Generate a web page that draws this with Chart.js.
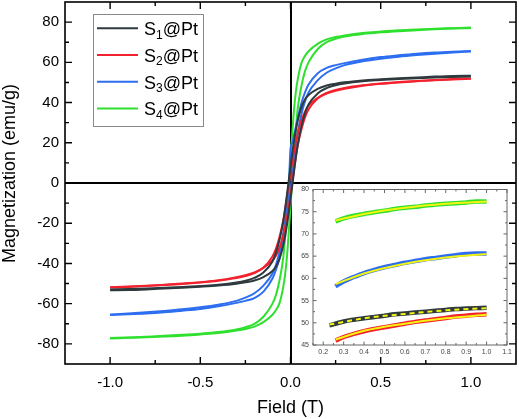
<!DOCTYPE html>
<html>
<head>
<meta charset="utf-8">
<script src="https://cdn.jsdelivr.net/npm/chart.js@4/dist/chart.umd.min.js"></script>
<style>
  html, body { margin: 0; padding: 0; background: #fff; }
  #wrap { position: relative; width: 519px; height: 419px; }
  #main { position: absolute; left: 0; top: 0; }
  #inset { position: absolute; left: 292px; top: 180px; }
</style>
</head>
<body>
<div id="wrap">
  <canvas id="main" width="519" height="419"></canvas>
  <canvas id="inset" width="224" height="184"></canvas>
</div>
<script>
// ---------------- DATA ----------------
const seriesLabels = ['S₁@Pt', 'S₂@Pt', 'S₃@Pt', 'S₄@Pt'];
const seriesColors = ['#2e3a3e', '#f2222e', '#2d6ef0', '#2fe02f'];

// field sweep from +1 T down to -1 T (descending branch)
const fieldDesc = [1.0, 0.9, 0.8, 0.7, 0.6, 0.5, 0.4, 0.3, 0.25, 0.2, 0.15, 0.1, 0.08, 0.06, 0.04, 0.03, 0.02, 0.01, 0,
  -0.01, -0.02, -0.03, -0.04, -0.06, -0.08, -0.1, -0.15, -0.2, -0.25, -0.3, -0.4, -0.5, -0.6, -0.7, -0.8, -0.9, -1.0];
// field sweep from -1 T up to +1 T (ascending branch)
const fieldAsc = [-1.0, -0.9, -0.8, -0.7, -0.6, -0.5, -0.4, -0.3, -0.25, -0.2, -0.15, -0.1, -0.08, -0.06, -0.04, -0.03, -0.02, -0.01, 0,
  0.01, 0.02, 0.03, 0.04, 0.06, 0.08, 0.1, 0.15, 0.2, 0.25, 0.3, 0.4, 0.5, 0.6, 0.7, 0.8, 0.9, 1.0];

const s1Desc = [53.3, 53.2, 52.9, 52.5, 52.1, 51.6, 51.0, 50.1, 49.4, 48.5, 46.8, 43.8, 41.5, 37.5, 31, 26.5, 21, 15, 8,
  1, -6, -13, -19, -28, -34.5, -39, -44.5, -47.2, -48.6, -49.5, -50.6, -51.2, -51.7, -52.1, -52.4, -52.7, -53.0];
const s1Asc = [-53.3, -53.2, -52.9, -52.5, -52.1, -51.6, -51.0, -50.1, -49.4, -48.5, -46.8, -43.8, -41.5, -37.5, -31, -26.5, -21, -15, -8,
  -1, 6, 13, 19, 28, 34.5, 39, 44.5, 47.2, 48.6, 49.5, 50.6, 51.2, 51.7, 52.1, 52.4, 52.7, 53.0];

const s2Desc = [52.0, 51.7, 51.2, 50.6, 50.0, 49.3, 48.3, 46.8, 45.8, 44.5, 42.2, 38.5, 35.5, 31, 24.5, 20.5, 16, 10.5, 5,
  -1, -7, -13, -18.5, -26.5, -32.5, -36.5, -42, -44.8, -46.3, -47.3, -48.6, -49.5, -50.2, -50.7, -51.1, -51.5, -51.8];
const s2Asc = [-52.0, -51.7, -51.2, -50.6, -50.0, -49.3, -48.3, -46.8, -45.8, -44.5, -42.2, -38.5, -36, -32, -26, -22, -17.5, -12, -6,
  0.5, 7, 13, 18.5, 26.5, 32.5, 36.5, 42, 44.8, 46.3, 47.3, 48.6, 49.5, 50.2, 50.7, 51.1, 51.5, 51.8];

const s3Desc = [65.6, 65.3, 64.9, 64.3, 63.5, 62.6, 61.3, 59.6, 58.6, 57.2, 54.5, 49, 45, 39.5, 32, 28, 24, 20, 17,
  -4, -12, -19, -25, -34, -40.5, -45, -51, -54.8, -57, -58.6, -60.5, -61.8, -62.8, -63.6, -64.3, -64.9, -65.4];
const s3Asc = [-65.6, -65.3, -64.9, -64.3, -63.5, -62.6, -61.3, -59.6, -58.6, -57.2, -54, -47.5, -43, -37, -28, -22, -17, -11, -4,
  4, 12, 19, 25, 34, 40.5, 45, 51, 54.8, 57, 58.6, 60.5, 61.8, 62.8, 63.6, 64.3, 64.9, 65.4];

const s4Desc = [77.3, 77.0, 76.7, 76.3, 75.9, 75.3, 74.6, 73.4, 72.6, 71.4, 69.2, 65.5, 63.2, 59.5, 51.5, 45.5, 37, 25, 12,
  -2, -15, -27, -37, -48, -55.5, -60, -66.5, -70, -71.7, -72.8, -74.1, -74.9, -75.5, -76.0, -76.4, -76.8, -77.1];
const s4Asc = [-77.3, -77.0, -76.7, -76.3, -75.9, -75.3, -74.6, -73.4, -72.6, -71.4, -69.2, -65.5, -63.2, -59.5, -51.5, -45.5, -37, -25, -12,
  2, 15, 27, 37, 48, 55.5, 60, 66.5, 70, 71.7, 72.8, 74.1, 74.9, 75.5, 76.0, 76.4, 76.8, 77.1];

const mainXTicks = [-1.0, -0.5, 0.0, 0.5, 1.0];
const mainXMinor = [-0.75, -0.25, 0.25, 0.75];
const mainYTicks = [-80, -60, -40, -20, 0, 20, 40, 60, 80];
const mainYMinor = [-70, -50, -30, -10, 10, 30, 50, 70];

// inset (high-field zoom with fits)
const insetFieldS1 = [0.23, 0.3, 0.35, 0.4, 0.45, 0.5, 0.55, 0.6, 0.65, 0.7, 0.75, 0.8, 0.85, 0.9, 0.95, 1.0];
const insetField = [0.26, 0.3, 0.35, 0.4, 0.45, 0.5, 0.55, 0.6, 0.65, 0.7, 0.75, 0.8, 0.85, 0.9, 0.95, 1.0];
const insetS1 = [49.4, 50.3, 50.7, 51.0, 51.3, 51.6, 51.9, 52.1, 52.3, 52.5, 52.7, 52.9, 53.1, 53.2, 53.3, 53.4];
const insetS2 = [46.0, 46.8, 47.5, 48.1, 48.6, 49.0, 49.4, 49.8, 50.2, 50.5, 50.8, 51.1, 51.4, 51.6, 51.8, 51.9];
const insetS3 = [58.2, 59.3, 60.3, 61.2, 61.9, 62.5, 63.0, 63.5, 63.9, 64.3, 64.6, 64.9, 65.2, 65.5, 65.6, 65.6];
const insetS4 = [72.8, 73.5, 74.1, 74.5, 74.9, 75.2, 75.6, 75.9, 76.1, 76.4, 76.6, 76.8, 76.9, 77.1, 77.3, 77.3];
const fitFieldS1 = [0.23, 0.4, 0.6, 0.8, 1.0];
const fitField = [0.26, 0.4, 0.6, 0.8, 1.0];
const fitS1 = [49.6, 51.0, 52.0, 52.8, 53.3];
const fitS2 = [46.2, 48.2, 49.8, 51.0, 51.8];
const fitS3 = [58.7, 61.1, 63.3, 64.7, 65.5];
const fitS4 = [73.0, 74.5, 75.9, 76.8, 77.3];
const insetXTicks = [0.2, 0.3, 0.4, 0.5, 0.6, 0.7, 0.8, 0.9, 1.0, 1.1];
const insetXMinor = [0.15, 0.25, 0.35, 0.45, 0.55, 0.65, 0.75, 0.85, 0.95, 1.05];
const insetYTicks = [45, 50, 55, 60, 65, 70, 75, 80];
const insetYMinor = [47.5, 52.5, 57.5, 62.5, 67.5, 72.5, 77.5];

// ---------------- HELPERS ----------------
const FONT = "'Liberation Sans', Arial, sans-serif";
const pts = (xs, ys) => xs.map((v, i) => ({x: v, y: ys[i]}));

const branches = [[s1Desc, s1Asc], [s2Desc, s2Asc], [s3Desc, s3Asc], [s4Desc, s4Asc]];
const mainDatasets = [];
branches.forEach((b, i) => {
  mainDatasets.push({label: seriesLabels[i], data: pts(fieldDesc, b[0]), borderColor: seriesColors[i]});
  mainDatasets.push({label: seriesLabels[i], data: pts(fieldAsc, b[1]), borderColor: seriesColors[i]});
});

function drawSubText(ctx, text, x, base, size) {
  const m = text.match(/^(.*?)([\u2080-\u2089]+)(.*)$/);
  ctx.textAlign = 'left'; ctx.textBaseline = 'alphabetic';
  if (!m) { ctx.font = size + 'px ' + FONT; ctx.fillText(text, x, base); return; }
  const sub = m[2].split('').map(c => String.fromCharCode(c.charCodeAt(0) - 0x2080 + 48)).join('');
  ctx.font = size + 'px ' + FONT;
  ctx.fillText(m[1], x, base); x += ctx.measureText(m[1]).width;
  ctx.font = Math.round(size * 0.68) + 'px ' + FONT;
  ctx.fillText(sub, x, base + 3.5); x += ctx.measureText(sub).width;
  ctx.font = size + 'px ' + FONT;
  ctx.fillText(m[3], x, base);
}

function drawTicks(ctx, a, xs, ys, vals, minor, len, horiz) {
  vals.forEach(v => {
    if (horiz) {
      const p = xs.getPixelForValue(v);
      ctx.beginPath(); ctx.moveTo(p, a.bottom); ctx.lineTo(p, a.bottom - len);
      ctx.moveTo(p, a.top); ctx.lineTo(p, a.top + len); ctx.stroke();
    } else {
      const p = ys.getPixelForValue(v);
      ctx.beginPath(); ctx.moveTo(a.left, p); ctx.lineTo(a.left + len, p);
      ctx.moveTo(a.right, p); ctx.lineTo(a.right - len, p); ctx.stroke();
    }
  });
}

const noPad = s => { s.paddingTop = 0; s.paddingBottom = 0; s.paddingLeft = 0; s.paddingRight = 0; };

const mainDeco = {
  id: 'mainDeco',
  beforeDatasetsDraw(chart) {
    const {ctx, chartArea: a, scales: {x, y}} = chart;
    ctx.save();
    ctx.strokeStyle = '#000'; ctx.lineWidth = 2;
    const x0 = Math.round(x.getPixelForValue(0)), y0 = Math.round(y.getPixelForValue(0));
    ctx.beginPath();
    ctx.moveTo(x0, a.top); ctx.lineTo(x0, a.bottom);
    ctx.moveTo(a.left, y0); ctx.lineTo(a.right, y0);
    ctx.stroke();
    ctx.restore();
  },
  afterDraw(chart) {
    const {ctx, chartArea: a, scales: {x, y}} = chart;
    ctx.save();
    ctx.strokeStyle = '#000'; ctx.lineWidth = 1.6;
    ctx.strokeRect(a.left, a.top, a.right - a.left, a.bottom - a.top);
    ctx.lineWidth = 1.4;
    drawTicks(ctx, a, x, y, mainXTicks, false, 7, true);
    drawTicks(ctx, a, x, y, mainXMinor, true, 4, true);
    drawTicks(ctx, a, x, y, mainYTicks, false, 7, false);
    drawTicks(ctx, a, x, y, mainYMinor, true, 4, false);

    // legend
    ctx.fillStyle = '#fff';
    ctx.fillRect(93.5, 14.5, 110, 112);
    ctx.strokeStyle = '#8a8a8a'; ctx.lineWidth = 1;
    ctx.strokeRect(93.5, 14.5, 110, 112);
    seriesLabels.forEach((lab, i) => {
      const ly = 28.3 + i * 26.7;
      ctx.strokeStyle = seriesColors[i]; ctx.lineWidth = 2;
      ctx.beginPath(); ctx.moveTo(97, ly); ctx.lineTo(138, ly); ctx.stroke();
      ctx.fillStyle = '#000';
      drawSubText(ctx, lab, 144, ly + 6.8, 18);
    });

    // axis titles
    ctx.fillStyle = '#000';
    ctx.font = '18px ' + FONT;
    ctx.textAlign = 'center'; ctx.textBaseline = 'alphabetic';
    ctx.fillText('Field (T)', x.getPixelForValue(0), 412.5);
    ctx.save();
    ctx.translate(14.7, 173.5);
    ctx.rotate(-Math.PI / 2);
    ctx.fillText('Magnetization (emu/g)', 0, 0);
    ctx.restore();
    ctx.restore();
  }
};

new Chart(document.getElementById('main'), {
  type: 'scatter',
  data: {datasets: mainDatasets},
  options: {
    responsive: false, animation: false, devicePixelRatio: 1, events: [],
    layout: {padding: {top: 2, right: 3, left: 0, bottom: 0}},
    elements: {
      point: {radius: 0},
      line: {borderWidth: 2, tension: 0.4, cubicInterpolationMode: 'monotone', fill: false}
    },
    datasets: {scatter: {showLine: true}},
    plugins: {legend: {display: false}, tooltip: {enabled: false}},
    scales: {
      x: {
        type: 'linear', min: -1.25, max: 1.25,
        afterBuildTicks: s => { s.ticks = mainXTicks.map(v => ({value: v})); },
        afterFit: s => { s.height = 55; noPad(s); },
        grid: {display: false, drawTicks: false}, border: {display: false},
        ticks: {autoSkip: false, maxRotation: 0, padding: 10, color: '#000',
          font: {family: FONT, size: 15}, callback: v => Number(v).toFixed(1)}
      },
      y: {
        type: 'linear', min: -90, max: 90,
        afterBuildTicks: s => { s.ticks = mainYTicks.map(v => ({value: v})); },
        afterFit: s => { s.width = 65; noPad(s); },
        grid: {display: false, drawTicks: false}, border: {display: false},
        ticks: {autoSkip: false, padding: 6, color: '#000',
          font: {family: FONT, size: 15}, callback: v => String(v)}
      }
    }
  },
  plugins: [mainDeco]
});

// ---------------- INSET ----------------
const insetData = [[insetFieldS1, insetS1], [insetField, insetS2], [insetField, insetS3], [insetField, insetS4]];
const insetFits = [[fitFieldS1, fitS1], [fitField, fitS2], [fitField, fitS3], [fitField, fitS4]];
const insetDatasets = [];
insetData.forEach((d, i) => insetDatasets.push({label: seriesLabels[i], data: pts(d[0], d[1]),
  borderColor: seriesColors[i], borderWidth: 4.5, order: 2}));
insetFits.forEach((d, i) => insetDatasets.push({label: 'fit ' + seriesLabels[i], data: pts(d[0], d[1]),
  borderColor: '#f4f410', borderWidth: 2, borderDash: i === 0 ? [5, 4] : [], order: 1}));

const insetDeco = {
  id: 'insetDeco',
  beforeDatasetsDraw(chart) {
    const {ctx, chartArea: a} = chart;
    ctx.save(); ctx.fillStyle = '#fff';
    ctx.fillRect(a.left, a.top, a.right - a.left, a.bottom - a.top);
    ctx.restore();
  },
  afterDraw(chart) {
    const {ctx, chartArea: a, scales: {x, y}} = chart;
    ctx.save();
    ctx.strokeStyle = '#666'; ctx.lineWidth = 1;
    ctx.strokeRect(a.left, a.top, a.right - a.left, a.bottom - a.top);
    drawTicks(ctx, a, x, y, insetXTicks, false, 3.5, true);
    drawTicks(ctx, a, x, y, insetXMinor, true, 2, true);
    drawTicks(ctx, a, x, y, insetYTicks, false, 3.5, false);
    drawTicks(ctx, a, x, y, insetYMinor, true, 2, false);
    ctx.restore();
  }
};

new Chart(document.getElementById('inset'), {
  type: 'scatter',
  data: {datasets: insetDatasets},
  options: {
    responsive: false, animation: false, devicePixelRatio: 1, events: [],
    layout: {padding: {top: 9.5, right: 9, left: 0, bottom: 0}},
    elements: {
      point: {radius: 0},
      line: {tension: 0.4, cubicInterpolationMode: 'monotone', fill: false}
    },
    datasets: {scatter: {showLine: true}},
    plugins: {legend: {display: false}, tooltip: {enabled: false}},
    scales: {
      x: {
        type: 'linear', min: 0.15, max: 1.1,
        afterBuildTicks: s => { s.ticks = insetXTicks.map(v => ({value: v})); },
        afterFit: s => { s.height = 19; noPad(s); },
        grid: {display: false, drawTicks: false}, border: {display: false},
        ticks: {autoSkip: false, maxRotation: 0, padding: 3, color: '#444',
          font: {family: FONT, size: 7}, callback: v => Number(v).toFixed(1)}
      },
      y: {
        type: 'linear', min: 45, max: 80,
        afterBuildTicks: s => { s.ticks = insetYTicks.map(v => ({value: v})); },
        afterFit: s => { s.width = 21; noPad(s); },
        grid: {display: false, drawTicks: false}, border: {display: false},
        ticks: {autoSkip: false, padding: 4, color: '#444',
          font: {family: FONT, size: 7}, callback: v => String(v)}
      }
    }
  },
  plugins: [insetDeco]
});
</script>
</body>
</html>
